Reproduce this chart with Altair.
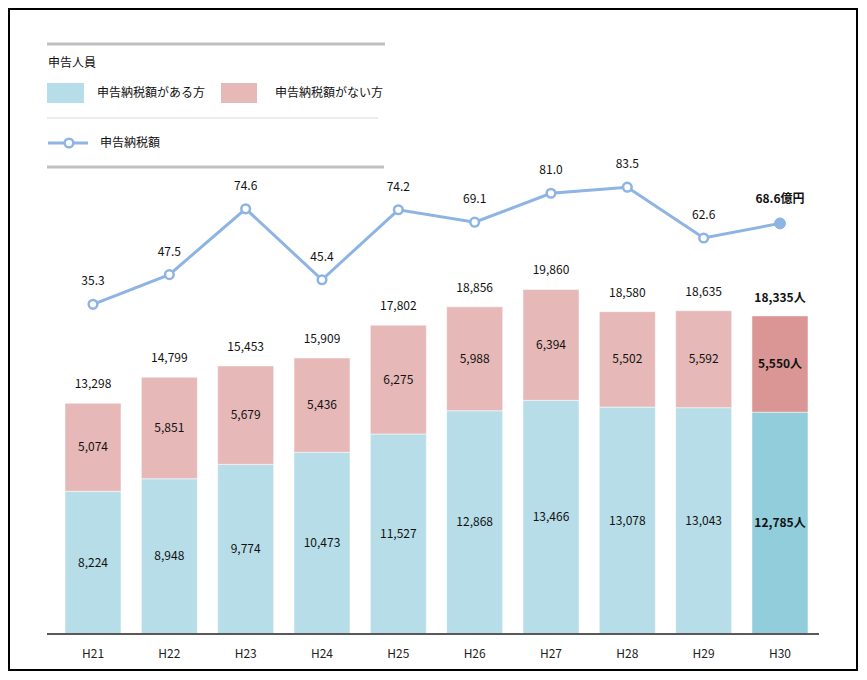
import altair as alt
import pandas as pd

# ---- data ----
years = ["H21", "H22", "H23", "H24", "H25", "H26", "H27", "H28", "H29", "H30"]
with_tax = [8224, 8948, 9774, 10473, 11527, 12868, 13466, 13078, 13043, 12785]
without_tax = [5074, 5851, 5679, 5436, 6275, 5988, 6394, 5502, 5592, 5550]
tax_amount = [35.3, 47.5, 74.6, 45.4, 74.2, 69.1, 81.0, 83.5, 62.6, 68.6]
highlight_year = "H30"

cat_names = ["申告納税額がある方", "申告納税額がない方"]
legend_title = "申告人員"
line_name = "申告納税額"
person_unit = "人"
money_unit = "億円"

FONT = "Noto Sans CJK JP"
BLUE, PINK = "#B7DEE8", "#E6B9B8"
BLUE_HL, PINK_HL = "#92CDDC", "#DA9694"
LINE_C = "#8DB4E2"

W, H = 779, 594
BAR_MAX = 34236
LINE_DOM = [-100.37, 144.07]

# ---- tables ----
rows = []
for i, y in enumerate(years):
    hl = y == highlight_year
    unit = person_unit if hl else ""
    a, b = with_tax[i], without_tax[i]
    rows.append(dict(year=y, cat=cat_names[0], key=("A-hl" if hl else "A"), ord=0,
                     value=a, mid=a / 2, label=f"{a:,}{unit}", hl=hl))
    rows.append(dict(year=y, cat=cat_names[1], key=("B-hl" if hl else "B"), ord=1,
                     value=b, mid=a + b / 2, label=f"{b:,}{unit}", hl=hl))
bars_df = pd.DataFrame(rows)

tot_df = pd.DataFrame({
    "year": years,
    "total": [a + b for a, b in zip(with_tax, without_tax)],
})
tot_df["hl"] = tot_df["year"] == highlight_year
tot_df["label"] = [f"{t:,}" + (person_unit if h else "") for t, h in zip(tot_df["total"], tot_df["hl"])]

line_df = pd.DataFrame({"year": years, "amt": tax_amount})
line_df["hl"] = line_df["year"] == highlight_year
line_df["label"] = [f"{v:.1f}" + (money_unit if h else "") for v, h in zip(line_df["amt"], line_df["hl"])]

xenc = alt.X("year:N", sort=years, title=None,
             scale=alt.Scale(paddingInner=0.2661, paddingOuter=0.2359),
             axis=alt.Axis(labelAngle=0, domain=False, ticks=False, labelPadding=14,
                           grid=False))
ybar = alt.Scale(domain=[0, BAR_MAX], nice=False, zero=True)
yline = alt.Scale(domain=LINE_DOM, nice=False, zero=False)

bars = alt.Chart(bars_df).mark_bar(stroke="white", strokeWidth=1, strokeOpacity=0.5).encode(
    x=xenc,
    y=alt.Y("value:Q", stack="zero", scale=ybar, axis=None),
    color=alt.Color("key:N", scale=alt.Scale(domain=["A", "B", "A-hl", "B-hl"],
                                             range=[BLUE, PINK, BLUE_HL, PINK_HL]), legend=None),
    order=alt.Order("ord:Q", sort="ascending"),
)

seg_norm = alt.Chart(bars_df).transform_filter("!datum.hl").mark_text(
    font=FONT, fontSize=12, color="#111", baseline="middle").encode(
    x=alt.X("year:N", sort=years), y=alt.Y("mid:Q", scale=ybar, axis=None), text="label:N")
seg_hl = alt.Chart(bars_df).transform_filter("datum.hl").mark_text(
    font=FONT, fontSize=12, color="#111", fontWeight="bold", baseline="middle").encode(
    x=alt.X("year:N", sort=years), y=alt.Y("mid:Q", scale=ybar, axis=None), text="label:N")

tot_norm = alt.Chart(tot_df).transform_filter("!datum.hl").mark_text(
    font=FONT, fontSize=12, color="#111", baseline="middle", dy=-19).encode(
    x=alt.X("year:N", sort=years), y=alt.Y("total:Q", scale=ybar, axis=None), text="label:N")
tot_hl = alt.Chart(tot_df).transform_filter("datum.hl").mark_text(
    font=FONT, fontSize=12, color="#111", fontWeight="bold", baseline="middle", dy=-18).encode(
    x=alt.X("year:N", sort=years), y=alt.Y("total:Q", scale=ybar, axis=None), text="label:N")

line = alt.Chart(line_df).mark_line(color=LINE_C, strokeWidth=3).encode(
    x=alt.X("year:N", sort=years), y=alt.Y("amt:Q", scale=yline, axis=None))
pts_open = alt.Chart(line_df).transform_filter("!datum.hl").mark_point(
    shape="circle", filled=True, fill="white", stroke=LINE_C, strokeWidth=2.5, size=75, opacity=1).encode(
    x=alt.X("year:N", sort=years), y=alt.Y("amt:Q", scale=yline, axis=None))
pts_hl = alt.Chart(line_df).transform_filter("datum.hl").mark_point(
    shape="circle", filled=True, fill=LINE_C, stroke=LINE_C, strokeWidth=1, size=120, opacity=1).encode(
    x=alt.X("year:N", sort=years), y=alt.Y("amt:Q", scale=yline, axis=None))
lab_norm = alt.Chart(line_df).transform_filter("!datum.hl").mark_text(
    font=FONT, fontSize=12, color="#111", baseline="middle", dy=-23).encode(
    x=alt.X("year:N", sort=years), y=alt.Y("amt:Q", scale=yline, axis=None), text="label:N")
lab_hl = alt.Chart(line_df).transform_filter("datum.hl").mark_text(
    font=FONT, fontSize=12, color="#111", fontWeight="bold", baseline="middle", dy=-24).encode(
    x=alt.X("year:N", sort=years), y=alt.Y("amt:Q", scale=yline, axis=None), text="label:N")

# ---- decorations / custom legend ----
one = pd.DataFrame({"k": [0]})

def rule(x1, x2, y, color, width):
    return alt.Chart(one).mark_rule(color=color, strokeWidth=width).encode(
        x=alt.value(x1), x2=alt.value(x2), y=alt.value(y))

def rect(x1, x2, y1, y2, color):
    return alt.Chart(one).mark_rect(color=color).encode(
        x=alt.value(x1), x2=alt.value(x2), y=alt.value(y1), y2=alt.value(y2))

def label(x, y, txt):
    return alt.Chart(one).mark_text(font=FONT, fontSize=12, color="#111", align="left",
                                    baseline="middle").encode(
        x=alt.value(x), y=alt.value(y), text=alt.value(txt))

axis_line = rule(0, 772, H, "#595959", 2)
frame = alt.Chart(one).mark_rect(fill="transparent", stroke="black", strokeWidth=2).encode(
    x=alt.value(-38), x2=alt.value(W + 31), y=alt.value(-31), y2=alt.value(H + 36))

legend = [
    rule(0, 338, 4, "#BFBFBF", 3),
    label(1, 23, legend_title),
    rect(0, 37, 43, 63, BLUE),
    label(50, 53, cat_names[0]),
    rect(174, 210, 43, 63, PINK),
    label(228, 53, cat_names[1]),
    rule(0, 331, 78, "#D9D9D9", 1),
    rule(1, 41, 103, LINE_C, 3),
    alt.Chart(one).mark_point(shape="circle", filled=True, fill="white", stroke=LINE_C,
                              strokeWidth=2.5, size=75, opacity=1).encode(
        x=alt.value(22), y=alt.value(103)),
    label(53, 103, line_name),
    rule(0, 337, 127, "#BFBFBF", 3),
]

chart = alt.layer(
    bars, seg_norm, seg_hl, tot_norm, tot_hl,
    line, pts_open, pts_hl, lab_norm, lab_hl,
    axis_line, frame, *legend,
).resolve_scale(y="independent").properties(
    width=W, height=H,
    padding={"left": 39, "top": 32, "right": 32, "bottom": 37},
    autosize=alt.AutoSizeParams(type="none"),
    background="white",
).configure_view(strokeWidth=0).configure_axis(
    labelFont=FONT, labelFontSize=12, labelColor="#222",
)

chart.save("out.html", embed_options={"renderer": "svg", "actions": False})
